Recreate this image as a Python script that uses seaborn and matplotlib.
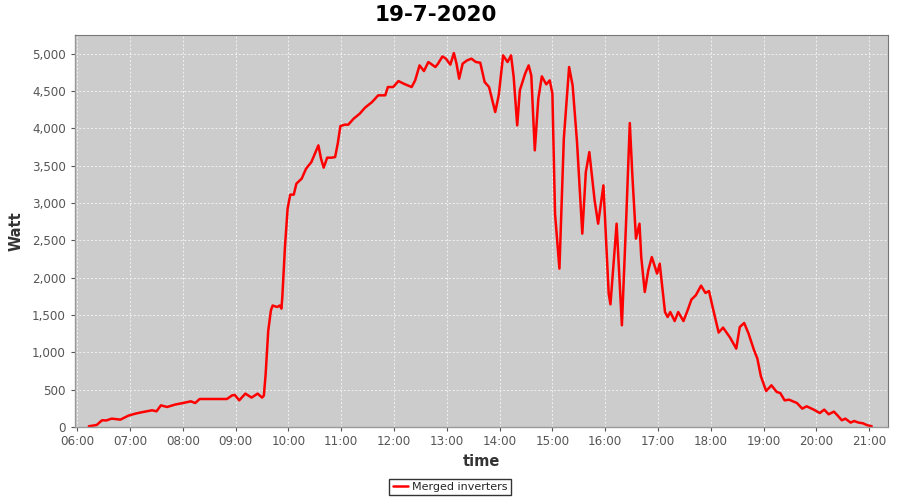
import numpy as np
import pandas as pd
import seaborn as sns
import matplotlib.pyplot as plt
import matplotlib.dates as mdates
from matplotlib.ticker import FuncFormatter

# readings (time of day, watt)
times = ['06:13', '06:22', '06:28', '06:33', '06:39', '06:49', '06:58', '07:06', '07:13',
         '07:25', '07:30', '07:35', '07:42', '07:51', '08:00', '08:09', '08:14', '08:19',
         '08:35', '08:50', '08:56', '08:59', '09:04', '09:11', '09:18', '09:25', '09:30',
         '09:32', '09:34', '09:37', '09:40', '09:42', '09:47', '09:50', '09:52', '09:53',
         '09:56', '09:59', '10:02', '10:06', '10:09', '10:15', '10:20', '10:26', '10:30',
         '10:34', '10:37', '10:40', '10:44', '10:49', '10:53', '10:56', '10:59', '11:04',
         '11:08', '11:14', '11:21', '11:27', '11:35', '11:42', '11:50', '11:53', '11:59',
         '12:05', '12:11', '12:20', '12:24', '12:29', '12:34', '12:39', '12:47', '12:50',
         '12:55', '12:59', '13:04', '13:08', '13:11', '13:14', '13:18', '13:23', '13:28',
         '13:33', '13:38', '13:43', '13:48', '13:55', '13:59', '14:04', '14:09', '14:13',
         '14:16', '14:20', '14:23', '14:29', '14:33', '14:36', '14:40', '14:44', '14:48',
         '14:53', '14:57', '15:00', '15:03', '15:08', '15:13', '15:19', '15:23', '15:28',
         '15:34', '15:38', '15:42', '15:48', '15:52', '15:58', '16:04', '16:06', '16:09',
         '16:13', '16:16', '16:19', '16:24', '16:28', '16:31', '16:35', '16:39', '16:41',
         '16:45', '16:49', '16:53', '16:59', '17:02', '17:08', '17:11', '17:14', '17:19',
         '17:23', '17:29', '17:34', '17:38', '17:43', '17:49', '17:54', '17:58', '18:03',
         '18:09', '18:14', '18:22', '18:29', '18:33', '18:38', '18:43', '18:49', '18:53',
         '18:57', '19:03', '19:09', '19:15', '19:19', '19:24', '19:29', '19:38', '19:44',
         '19:49', '19:57', '20:04', '20:09', '20:14', '20:20', '20:24', '20:29', '20:33',
         '20:39', '20:43', '20:48', '20:53', '20:58', '21:03']
watts = [10, 27, 90, 88, 112, 99, 152, 179, 197,
         224, 210, 290, 268, 300, 321, 344, 321, 375,
         375, 375, 424, 429, 357, 447, 394, 447, 394,
         420, 700, 1290, 1560, 1627, 1607, 1627, 1585, 1741,
         2410, 2924, 3112, 3112, 3259, 3326, 3460, 3548, 3661,
         3772, 3594, 3473, 3607, 3607, 3615, 3795, 4030, 4049,
         4049, 4129, 4196, 4277, 4352, 4442, 4442, 4553, 4553,
         4633, 4598, 4553, 4642, 4843, 4767, 4888, 4821, 4866,
         4963, 4933, 4853, 5008, 4866, 4665, 4866, 4910, 4933,
         4888, 4879, 4620, 4553, 4218, 4442, 4977, 4888, 4977,
         4687, 4040, 4509, 4732, 4843, 4709, 3705, 4397, 4696,
         4589, 4642, 4464, 2857, 2121, 3862, 4821, 4575, 3816,
         2590, 3414, 3682, 3036, 2723, 3236, 1786, 1643, 2098,
         2723, 2054, 1362, 2812, 4071, 3348, 2523, 2723, 2276,
         1808, 2098, 2276, 2054, 2188, 1540, 1473, 1540, 1419,
         1540, 1419, 1572, 1706, 1764, 1893, 1795, 1821, 1563,
         1265, 1331, 1197, 1050, 1339, 1393, 1251, 1036, 916,
         679, 482, 558, 469, 455, 357, 366, 321, 246,
         277, 233, 187, 233, 170, 206, 157, 90, 112,
         59, 80, 59, 50, 23, 10]

series_name = 'Merged inverters'
chart_title = '19-7-2020'

df = pd.DataFrame({
    'time': pd.to_datetime(['2020-07-19 ' + t for t in times]),
    'Watt': watts,
    'series': series_name,
})

sns.set_theme(style='white')
plt.rcParams['font.family'] = ['DejaVu Sans']

fig, ax = plt.subplots(figsize=(9, 5), dpi=100)
fig.subplots_adjust(left=75 / 900, right=888 / 900, top=1 - 35 / 500, bottom=1 - 427 / 500)

sns.lineplot(data=df, x='time', y='Watt', hue='series', palette=['#ff0000'],
             linewidth=1.8, ax=ax, legend=False)

ax.set_facecolor('#cccccc')
ax.set_xlim(pd.Timestamp('2020-07-19 05:57:20'), pd.Timestamp('2020-07-19 21:21:30'))
ax.set_ylim(0, 5250)
ax.set_yticks(np.arange(0, 5001, 500))
ax.yaxis.set_major_formatter(FuncFormatter(lambda v, p: f'{v:,.0f}'))
ax.xaxis.set_major_locator(mdates.HourLocator())
ax.xaxis.set_major_formatter(mdates.DateFormatter('%H:%M'))
ax.grid(True, color='#f2f2f2', linestyle=(0, (2, 2)), linewidth=0.7)

ax.tick_params(axis='both', labelsize=8.6, colors='#555555', length=3, width=0.8,
               direction='out', left=True, bottom=True)
ax.tick_params(axis='x', pad=3)
for side in ['top', 'right']:
    ax.spines[side].set_color('#777777')
    ax.spines[side].set_linewidth(0.8)
for side in ['left', 'bottom']:
    ax.spines[side].set_color('#999999')
    ax.spines[side].set_linewidth(1.0)

ax.set_xlabel('time', fontsize=10.5, fontweight='bold', color='#333333', labelpad=4)
ax.set_ylabel('Watt', fontsize=10.5, fontweight='bold', color='#333333', labelpad=6)

fig.text(436 / 900, 1 - 15 / 500, chart_title, ha='center', va='center',
         fontsize=15.5, fontweight='bold', color='black')

handle = plt.Line2D([], [], color='#ff0000', linewidth=1.8)
leg = fig.legend([handle], [series_name], loc='center', bbox_to_anchor=(450 / 900, 1 - 487 / 500),
                 fontsize=8, frameon=True, fancybox=False, handlelength=1.4,
                 handletextpad=0.3, borderpad=0.3, borderaxespad=0)
leg.get_frame().set_edgecolor('black')
leg.get_frame().set_linewidth(1.0)

plt.savefig('out.png', dpi=100)
